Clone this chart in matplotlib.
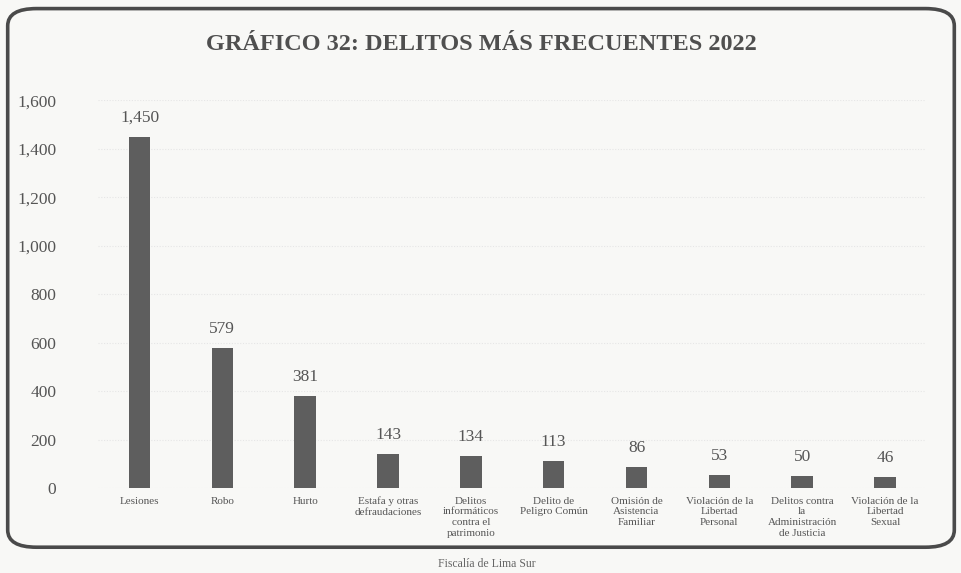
import matplotlib
matplotlib.use("Agg")
import matplotlib.pyplot as plt
from matplotlib.patches import FancyBboxPatch

categories = [
    "Lesiones",
    "Robo",
    "Hurto",
    "Estafa y otras\ndefraudaciones",
    "Delitos\ninformáticos\ncontra el\npatrimonio",
    "Delito de\nPeligro Común",
    "Omisión de\nAsistencia\nFamiliar",
    "Violación de la\nLibertad\nPersonal",
    "Delitos contra\nla\nAdministración\nde Justicia",
    "Violación de la\nLibertad\nSexual",
]
values = [1450, 579, 381, 143, 134, 113, 86, 53, 50, 46]
yticks = [0, 200, 400, 600, 800, 1000, 1200, 1400, 1600]
title = "GRÁFICO 32: DELITOS MÁS FRECUENTES 2022"
source = "Fiscalía de Lima Sur"

plt.rcParams['font.family'] = ['Liberation Serif', 'DejaVu Serif']

fig = plt.figure(figsize=(9.62, 5.73), dpi=100)
fig.patch.set_facecolor("#f8f8f6")

border = FancyBboxPatch((0.008, 0.045), 0.984, 0.94,
                        boxstyle="round,pad=0,rounding_size=0.03",
                        transform=fig.transFigure, fill=False,
                        edgecolor="#4a4a4a", linewidth=2.6, zorder=0)
fig.patches.append(border)

ax = fig.add_axes([0.102, 0.148, 0.861, 0.677])
ax.set_facecolor("none")
x = range(len(categories))
ax.bar(x, values, width=0.26, color="#5e5e5e", zorder=2)
for xi, v in zip(x, values):
    ax.text(xi, v + 45, f"{v:,}", ha="center", va="bottom",
            fontsize=12.5, color="#555555")

ax.set_ylim(0, 1600)
ax.set_xlim(-0.5, len(categories) - 0.5)
ax.set_yticks(yticks)
ax.set_yticklabels([f"{t:,}" for t in yticks], fontsize=12.5, color="#555555")
ax.set_xticks(list(x))
ax.set_xticklabels(categories, fontsize=8, color="#555555", linespacing=1.25)
ax.tick_params(axis="both", length=0)
ax.tick_params(axis="y", pad=30)
ax.tick_params(axis="x", pad=6)
ax.yaxis.grid(True, color="#e6e6e6", linewidth=0.8, linestyle=(0, (1, 1.5)))
ax.set_axisbelow(True)
for s in ax.spines.values():
    s.set_visible(False)

fig.text(0.5, 0.922, title, ha="center", va="center", fontsize=17.5,
         fontweight="bold", color="#4f4f4f")
fig.text(0.455, 0.016, source, ha="left", va="center", fontsize=8.5,
         color="#666666")

fig.savefig("out.png", dpi=100, facecolor=fig.get_facecolor())
